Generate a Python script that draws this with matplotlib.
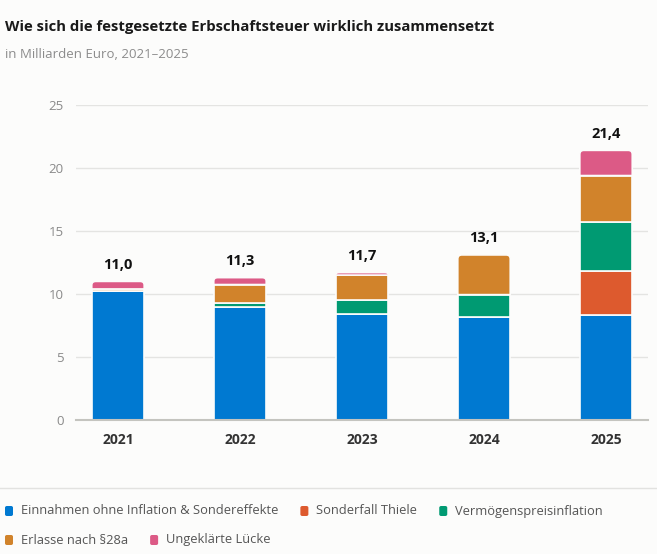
import matplotlib
matplotlib.use('Agg')
import matplotlib.pyplot as plt
from matplotlib.patches import FancyBboxPatch, PathPatch
from matplotlib.path import Path
import numpy as np

plt.rcParams['font.family'] = ['Open Sans', 'DejaVu Sans']

years = ['2021', '2022', '2023', '2024', '2025']
totals = [11.0, 11.3, 11.7, 13.1, 21.4]
einnahmen = [10.2, 8.95, 8.45, 8.2, 8.3]
thiele = [0.0, 0.0, 0.0, 0.0, 3.5]
inflation = [0.0, 0.35, 1.05, 1.75, 3.9]
erlasse = [0.2, 1.45, 2.0, 3.15, 3.7]
luecke = [0.6, 0.55, 0.2, 0.0, 2.0]

series = [
    ('Einnahmen ohne Inflation & Sondereffekte', einnahmen, '#0079d1'),
    ('Sonderfall Thiele', thiele, '#dd5a2e'),
    ('Vermögenspreisinflation', inflation, '#009a72'),
    ('Erlasse nach §28a', erlasse, '#d1832b'),
    ('Ungeklärte Lücke', luecke, '#dc5a86'),
]

W, H = 657, 554
bg = '#fcfcfb'
fig = plt.figure(figsize=(W / 100, H / 100), dpi=100, facecolor=bg)
ax = fig.add_axes([76 / W, (H - 420) / H, (648 - 76) / W, 315 / H])
ax.set_facecolor(bg)

x = np.arange(len(years))
bottom = np.zeros(len(years))
containers = []
for name, vals, col in series:
    vals = np.array(vals)
    bc = ax.bar(x, vals, width=0.43, bottom=bottom, color=col, edgecolor=bg, linewidth=1.2, zorder=3)
    containers.append((bc, vals))
    bottom += vals

ax.set_xlim(-0.344, 4.344)
ax.set_ylim(0, 25)

# oberstes segment je balken mit runden ecken oben
dx = 4.688 / 572   # daten pro pixel
dy = 25 / 315
for i in range(len(years)):
    top = None
    for bc, vals in containers:
        if vals[i] > 0:
            top = bc.patches[i]
    x0, y0 = top.get_x(), top.get_y()
    x1, y1 = x0 + top.get_width(), y0 + top.get_height()
    col = top.get_facecolor()
    top.set_visible(False)
    rx = 4 * dx
    ry = min(4 * dy, (y1 - y0) * 0.5)
    verts = [(x0, y0), (x1, y0), (x1, y1 - ry), (x1, y1), (x1 - rx, y1),
             (x0 + rx, y1), (x0, y1), (x0, y1 - ry), (x0, y0)]
    codes = [Path.MOVETO, Path.LINETO, Path.LINETO, Path.CURVE3, Path.CURVE3,
             Path.LINETO, Path.CURVE3, Path.CURVE3, Path.CLOSEPOLY]
    ax.add_patch(PathPatch(Path(verts, codes), facecolor=col, edgecolor=bg,
                           linewidth=1.2, zorder=3))

for xi, t in zip(x, totals):
    ax.text(xi, t + 0.75, f'{t:.1f}'.replace('.', ','), ha='center', va='bottom',
            fontsize=10.5, fontweight='bold', color='#111111')

ax.set_yticks([0, 5, 10, 15, 20, 25])
ax.set_xticks(x)
ax.set_xticklabels(years, fontsize=10, fontweight='bold', color='#333333')
ax.tick_params(axis='y', length=0, pad=9, labelsize=9.5, labelcolor='#8a8a8a')
ax.tick_params(axis='x', length=0, pad=9)
ax.grid(axis='y', color='#e4e4e2', linewidth=1, zorder=0)
for s in ['top', 'right', 'left']:
    ax.spines[s].set_visible(False)
ax.spines['bottom'].set_color('#c4c4bf')
ax.spines['bottom'].set_linewidth(1.5)
ax.spines['bottom'].set_zorder(4)

fig.text(5 / W, 1 - 27 / H, 'Wie sich die festgesetzte Erbschaftsteuer wirklich zusammensetzt',
         fontsize=10.7, fontweight='bold', color='#1a1a1a', va='center', ha='left')
fig.text(5 / W, 1 - 54 / H, 'in Milliarden Euro, 2021–2025',
         fontsize=9.5, color='#8c8c8c', va='center', ha='left')

# trennlinie ueber der legende
fig.add_artist(plt.Line2D([0, 1], [1 - 488 / H, 1 - 488 / H], color='#e2e2e0', linewidth=1))

# legende als fliesstext
fig.canvas.draw()
renderer = fig.canvas.get_renderer()
lx, ly = 5, 511
for name, vals, col in series:
    t = fig.text(0, 0, name, fontsize=9.3, color='#555555', va='center', ha='left')
    tw = t.get_window_extent(renderer).width
    if lx + 16 + tw > W - 5:
        lx, ly = 5, ly + 29
    sq = FancyBboxPatch((lx / W, 1 - (ly + 5) / H), 8 / W, 10 / H,
                        boxstyle='round,pad=0,rounding_size=0.003',
                        transform=fig.transFigure, facecolor=col, edgecolor='none')
    fig.add_artist(sq)
    t.set_position(((lx + 16) / W, 1 - ly / H))
    lx += 16 + tw + 22

fig.savefig('out.png', dpi=100, facecolor=bg)
